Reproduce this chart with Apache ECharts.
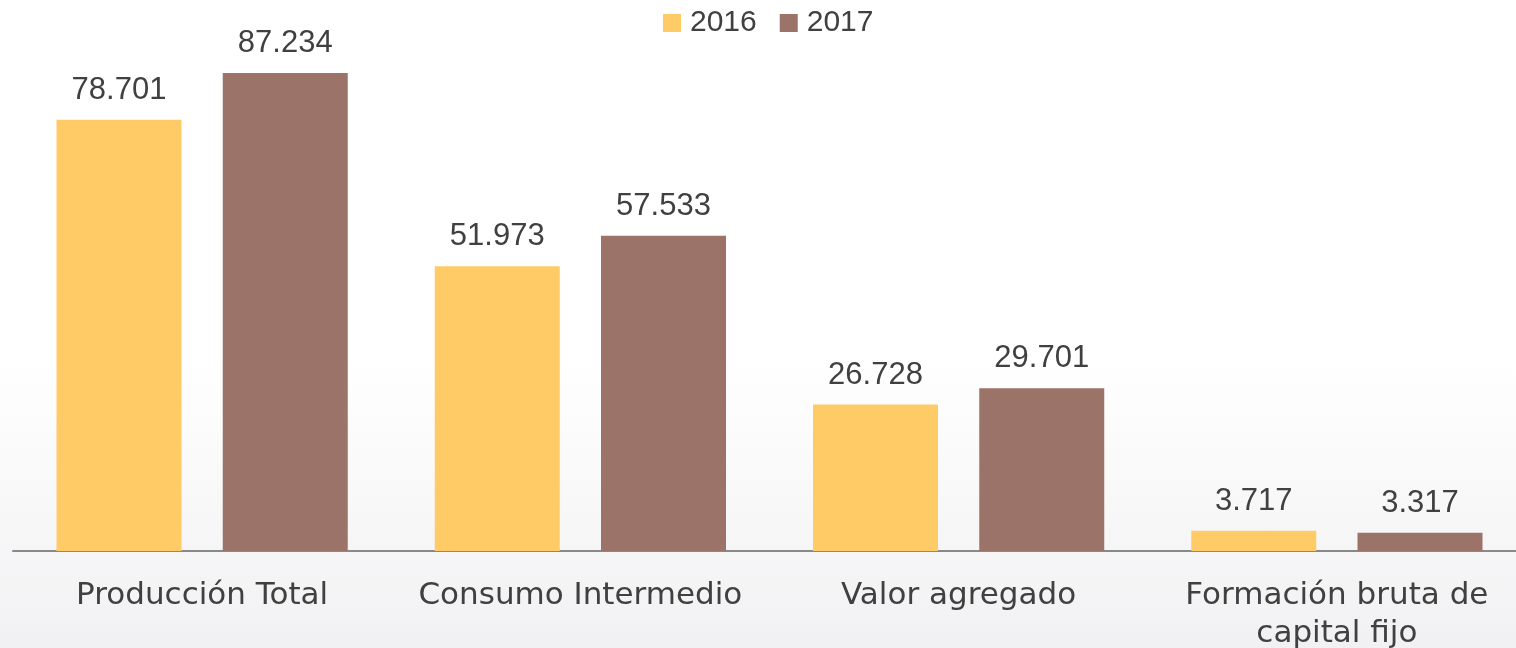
<!DOCTYPE html>
<html>
<head>
<meta charset="utf-8">
<script src="https://cdn.jsdelivr.net/npm/echarts@6/dist/echarts.min.js"></script>
<style>
  html, body { margin: 0; padding: 0; }
  #main { width: 1516px; height: 648px;
    background: linear-gradient(to bottom, #ffffff 0%, #ffffff 55%, #f1f1f3 100%); }
</style>
</head>
<body>
<div id="main"></div>
<script>
var categorias = ['Producción Total', 'Consumo Intermedio', 'Valor agregado', 'Formación bruta de\ncapital fijo'];
var valores2016 = [78.701, 51.973, 26.728, 3.717];
var valores2017 = [87.234, 57.533, 29.701, 3.317];
var anios = ['2016', '2017'];

var myChart = echarts.init(document.getElementById('main'));

var etiqueta = {
    show: true,
    position: 'top',
    distance: 14,
    color: '#404040',
    fontSize: 31,
    fontFamily: 'Liberation Sans',
    formatter: function (p) { return p.value.toFixed(3); }
};

var option = {
    textStyle: { fontFamily: 'DejaVu Sans' },
    legend: {
        data: anios,
        top: 3,
        left: 658,
        itemWidth: 18,
        itemHeight: 18,
        itemGap: 23,
        icon: 'rect',
        textStyle: { color: '#404040', fontSize: 30, fontFamily: 'Liberation Sans', padding: [0, 0, 0, 4] }
    },
    grid: { left: 13, right: -10, top: 3, bottom: 97, outerBoundsMode: 'none' },
    xAxis: {
        type: 'category',
        data: categorias,
        axisTick: { show: false },
        axisLine: { lineStyle: { color: '#898989', width: 2 } },
        axisLabel: { color: '#404040', fontSize: 31, margin: 26, lineHeight: 38, interval: 0 }
    },
    yAxis: {
        type: 'value',
        min: 0,
        max: 100,
        show: false
    },
    series: [{
        name: '2016',
        type: 'bar',
        data: valores2016,
        barGap: '33%',
        barCategoryGap: '23%',
        itemStyle: { color: '#FECB67' },
        label: etiqueta
    }, {
        name: '2017',
        type: 'bar',
        data: valores2017,
        itemStyle: { color: '#9B7368' },
        label: etiqueta
    }]
};

myChart.setOption(option);
</script>
</body>
</html>
